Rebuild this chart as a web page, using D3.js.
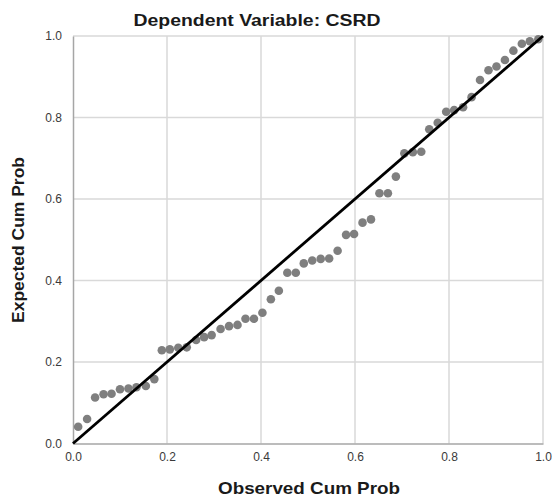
<!DOCTYPE html>
<html>
<head>
<meta charset="utf-8">
<script src="https://cdn.jsdelivr.net/npm/d3@7"></script>
<style>
  html, body { margin: 0; padding: 0; background: #fff; }
  svg { display: block; }
  text { font-family: "Liberation Sans", Arial, sans-serif; }
</style>
</head>
<body>
<svg id="chart" width="552" height="499"></svg>
<script>
// Observed cumulative probability (x) of each residual point
const observedCumProb = [
  0.011, 0.030, 0.047, 0.065, 0.082, 0.100, 0.118, 0.135, 0.155, 0.173,
  0.189, 0.206, 0.224, 0.242, 0.262, 0.279, 0.295, 0.314, 0.332, 0.350,
  0.367, 0.385, 0.403, 0.421, 0.438, 0.456, 0.474, 0.491, 0.509, 0.527,
  0.545, 0.563, 0.581, 0.598, 0.616, 0.634, 0.652, 0.670, 0.687, 0.705,
  0.723, 0.741, 0.758, 0.776, 0.794, 0.811, 0.830, 0.848, 0.866, 0.884,
  0.901, 0.919, 0.937, 0.955, 0.972, 0.990
];
// Expected cumulative probability (y)
const expectedCumProb = [
  0.041, 0.060, 0.113, 0.121, 0.122, 0.133, 0.135, 0.138, 0.141, 0.158,
  0.229, 0.231, 0.235, 0.236, 0.254, 0.261, 0.266, 0.281, 0.288, 0.291,
  0.306, 0.306, 0.321, 0.354, 0.375, 0.419, 0.419, 0.442, 0.449, 0.453,
  0.454, 0.473, 0.512, 0.514, 0.542, 0.550, 0.614, 0.614, 0.655, 0.712,
  0.715, 0.716, 0.771, 0.787, 0.814, 0.818, 0.825, 0.850, 0.892, 0.916,
  0.925, 0.941, 0.964, 0.981, 0.987, 0.992
];
const tickValues = [0, 0.2, 0.4, 0.6, 0.8, 1.0];
const titleText = "Dependent Variable: CSRD";
const xTitle = "Observed Cum Prob";
const yTitle = "Expected Cum Prob";

const svg = d3.select("#chart");
const m = { left: 73, right: 543, top: 36, bottom: 443.5 };
const x = d3.scaleLinear().domain([0, 1]).range([m.left, m.right]);
const y = d3.scaleLinear().domain([0, 1]).range([m.bottom, m.top]);

// Gridlines
const grid = svg.append("g");
grid.selectAll("line.v").data(tickValues.slice(1)).join("line")
  .attr("x1", d => x(d)).attr("x2", d => x(d))
  .attr("y1", y(0)).attr("y2", y(1))
  .attr("stroke", "#d9d9d9").attr("stroke-width", 1.5);
grid.selectAll("line.h").data(tickValues.slice(1)).join("line")
  .attr("y1", d => y(d)).attr("y2", d => y(d))
  .attr("x1", x(0)).attr("x2", x(1))
  .attr("stroke", "#d9d9d9").attr("stroke-width", 1.5);

// Axes
const xAxis = d3.axisBottom(x).tickValues(tickValues).tickFormat(d3.format(".1f")).tickSize(0).tickPadding(9);
const yAxis = d3.axisLeft(y).tickValues(tickValues).tickFormat(d3.format(".1f")).tickSize(0).tickPadding(11);
const gx = svg.append("g").attr("transform", `translate(0,${y(0)})`).call(xAxis);
const gy = svg.append("g").attr("transform", `translate(${x(0)},0)`).call(yAxis);
[gx, gy].forEach(g => {
  g.select(".domain").attr("stroke", "#a6a6a6").attr("stroke-width", 1.5);
  g.selectAll("text").attr("fill", "#3a3a3a").style("font-size", "12px");
});

// Points
svg.append("g").selectAll("circle")
  .data(observedCumProb.map((v, i) => [v, expectedCumProb[i]]))
  .join("circle")
  .attr("cx", d => x(d[0])).attr("cy", d => y(d[1]))
  .attr("r", 4.3).attr("fill", "#7f7f7f");

// Reference diagonal
svg.append("line")
  .attr("x1", x(0)).attr("y1", y(0)).attr("x2", x(1)).attr("y2", y(1))
  .attr("stroke", "#000").attr("stroke-width", 2.8);

// Titles
svg.append("text").attr("x", 257).attr("y", 26).attr("text-anchor", "middle")
  .attr("textLength", 247).attr("lengthAdjust", "spacingAndGlyphs")
  .style("font-size", "16px").style("font-weight", "bold").attr("fill", "#1a1a1a").text(titleText);
svg.append("text").attr("x", 309).attr("y", 494).attr("text-anchor", "middle")
  .attr("textLength", 182).attr("lengthAdjust", "spacingAndGlyphs")
  .style("font-size", "17px").style("font-weight", "bold").attr("fill", "#1a1a1a").text(xTitle);
svg.append("text").attr("transform", "translate(24,240) rotate(-90)").attr("text-anchor", "middle")
  .attr("textLength", 166).attr("lengthAdjust", "spacingAndGlyphs")
  .style("font-size", "17px").style("font-weight", "bold").attr("fill", "#1a1a1a").text(yTitle);
</script>
</body>
</html>
